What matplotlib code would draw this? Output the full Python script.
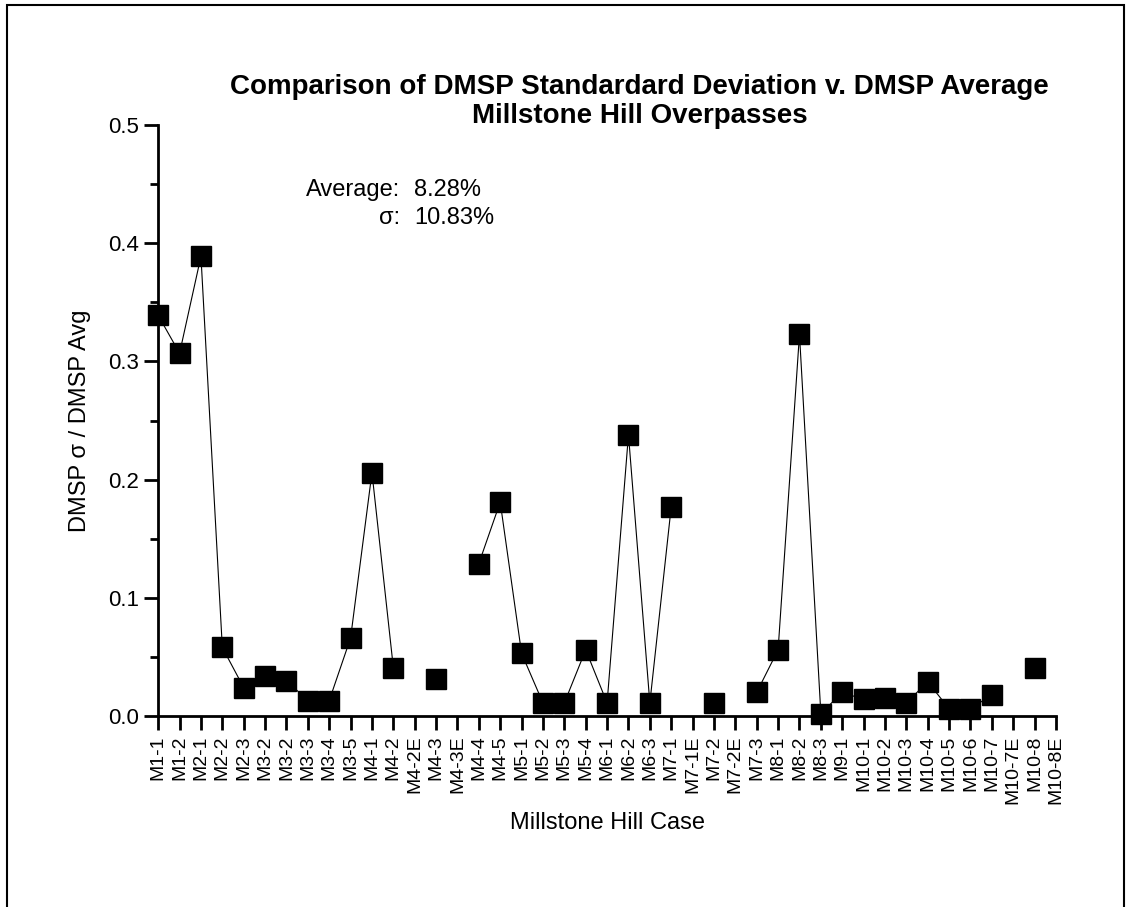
import numpy as np
import matplotlib
matplotlib.use("Agg")
import matplotlib.pyplot as plt
from matplotlib.patches import Rectangle

plt.rcParams['font.family'] = ['Liberation Sans', 'DejaVu Sans']

# Millstone Hill cases (x categories)
cases = ['M1-1', 'M1-2', 'M2-1', 'M2-2', 'M2-3', 'M3-2', 'M3-2', 'M3-3', 'M3-4', 'M3-5',
         'M4-1', 'M4-2', 'M4-2E', 'M4-3', 'M4-3E', 'M4-4', 'M4-5', 'M5-1', 'M5-2', 'M5-3',
         'M5-4', 'M6-1', 'M6-2', 'M6-3', 'M7-1', 'M7-1E', 'M7-2', 'M7-2E', 'M7-3', 'M8-1',
         'M8-2', 'M8-3', 'M9-1', 'M10-1', 'M10-2', 'M10-3', 'M10-4', 'M10-5', 'M10-6', 'M10-7',
         'M10-7E', 'M10-8', 'M10-8E']

# DMSP sigma / DMSP average (nan = no value)
ratio = [0.339, 0.307, 0.389, 0.058, 0.024, 0.034, 0.030, 0.013, 0.013, 0.066,
         0.206, 0.041, np.nan, 0.031, np.nan, 0.129, 0.181, 0.053, 0.011, 0.011,
         0.056, 0.011, 0.238, 0.011, 0.177, np.nan, 0.011, np.nan, 0.020, 0.056,
         0.323, 0.002, 0.020, 0.014, 0.015, 0.011, 0.029, 0.006, 0.006, 0.018,
         np.nan, 0.041, np.nan]

stat_labels = ['Average:', '\u03c3:']
stat_values = ['8.28%', '10.83%']

x = np.arange(1, len(cases) + 1)

fig = plt.figure(figsize=(11.3, 9.07), dpi=100)
ax = fig.add_axes([0.140, 0.2106, 0.7945, 0.6514])

ax.plot(x, ratio, color='black', lw=0.8, marker='s', markersize=14,
        markerfacecolor='black', markeredgecolor='black', clip_on=False)

ax.set_xlim(1, len(cases))
ax.set_ylim(0, 0.5)
ax.set_xticks(x)
ax.set_xticklabels(cases, rotation=90, fontsize=14)
ax.set_yticks([0.0, 0.1, 0.2, 0.3, 0.4, 0.5])
ax.set_yticklabels(['0.0', '0.1', '0.2', '0.3', '0.4', '0.5'], fontsize=16)
ax.set_yticks([0.05, 0.15, 0.25, 0.35, 0.45], minor=True)

for s in ['top', 'right']:
    ax.spines[s].set_visible(False)
for s in ['left', 'bottom']:
    ax.spines[s].set_linewidth(2)
ax.tick_params(axis='both', which='major', direction='out', length=10, width=2, pad=4)
ax.tick_params(axis='y', which='minor', direction='out', length=6, width=2)

ax.set_xlabel('Millstone Hill Case', fontsize=17, labelpad=6)
ax.set_ylabel('DMSP \u03c3 / DMSP Avg', fontsize=17, labelpad=12)

fig.text(0.566, 0.904, 'Comparison of DMSP Standardard Deviation v. DMSP Average',
         ha='center', va='center', fontsize=20, fontweight='bold')
fig.text(0.566, 0.872, 'Millstone Hill Overpasses',
         ha='center', va='center', fontsize=20, fontweight='bold')

ys = [0.89, 0.843]
for lab, val, yy in zip(stat_labels, stat_values, ys):
    ax.text(0.2695, yy, lab, transform=ax.transAxes, ha='right', va='center', fontsize=17)
    ax.text(0.285, yy, val, transform=ax.transAxes, ha='left', va='center', fontsize=17)

# outer frame
fig.patches.append(Rectangle((0.006, -0.01), 0.989, 1.004, transform=fig.transFigure,
                             fill=False, edgecolor='black', lw=1.5))

fig.savefig('out.png', dpi=100)
